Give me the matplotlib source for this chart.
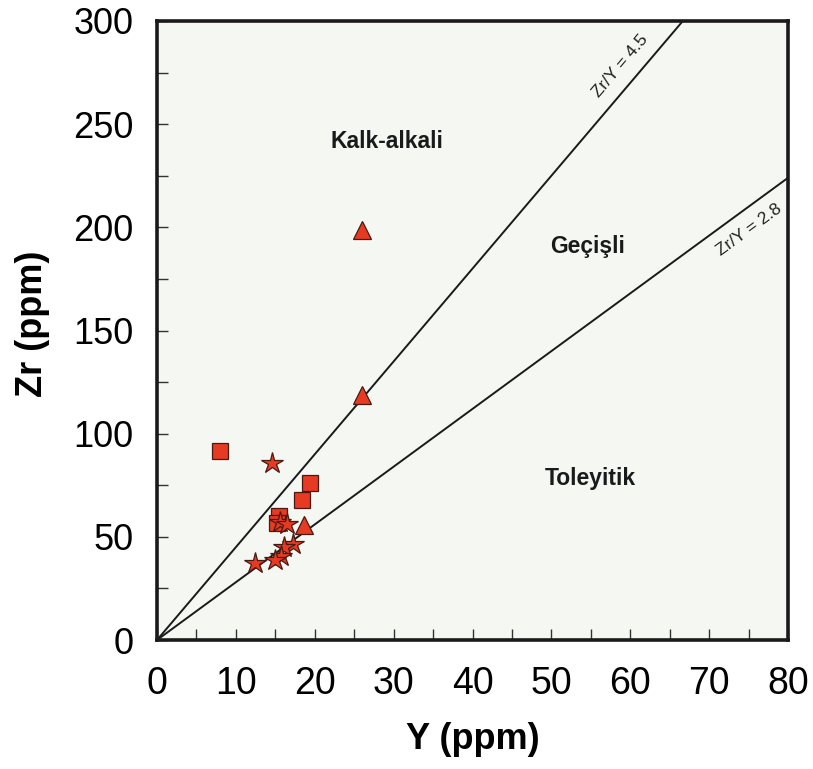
import matplotlib
matplotlib.use("Agg")
import matplotlib.pyplot as plt
import numpy as np
from matplotlib.ticker import MultipleLocator

plt.rcParams['font.family'] = ['Liberation Sans', 'DejaVu Sans']

# Data (Y ppm, Zr ppm)
square_y = [8.0, 19.4, 18.4, 15.5, 15.2]
square_zr = [91.5, 76.0, 68.0, 60.0, 56.5]
star_y = [14.6, 15.6, 16.5, 17.2, 16.1, 15.7, 15.0, 12.4]
star_zr = [86.0, 57.0, 56.0, 46.5, 45.0, 40.5, 39.0, 37.5]
tri_y = [26.0, 26.0, 18.6]
tri_zr = [198.5, 118.5, 55.5]

ratio_values = [4.5, 2.8]
ratio_labels = ['Zr/Y = 4.5', 'Zr/Y = 2.8']
region_labels = ['Kalk-alkali', 'Geçişli', 'Toleyitik']
region_pos = [(29.2, 238.5), (54.6, 187.6), (54.9, 75.1)]

xmax, ymax = 80, 300

fig = plt.figure(figsize=(8.13, 7.69), dpi=100)
ax = fig.add_axes([157/813, 1-640/769, (788-157)/813, (640-21)/769])
ax.set_facecolor('#f5f7f2')

# Discrimination lines
xs = np.array([0, xmax])
for r in ratio_values:
    ax.plot(xs, r*xs, color='#1a1a1a', lw=1.4, zorder=2)

ax.set_xlim(0, xmax)
ax.set_ylim(0, ymax)
fig.canvas.draw()

def angle_for(r):
    p1 = ax.transData.transform((0, 0))
    p2 = ax.transData.transform((10, 10*r))
    return np.degrees(np.arctan2(p2[1]-p1[1], p2[0]-p1[0]))

# label foot x on line, perpendicular offset (points), side (+1 above, -1 below)
lab_x = [60.5, 73.7]
lab_side = [1, -1]
for r, lab, lx, side in zip(ratio_values, ratio_labels, lab_x, lab_side):
    ang = angle_for(r)
    a = np.radians(ang)
    d = 13.5
    off = (-np.sin(a)*d*side, np.cos(a)*d*side)
    ax.annotate(lab, xy=(lx, r*lx), xytext=off, textcoords='offset points',
                rotation=ang, rotation_mode='anchor', ha='center', va='center',
                fontsize=12.5, color='#222222', zorder=3)

for lab, (px, py) in zip(region_labels, region_pos):
    ax.text(px, py, lab, ha='center', va='baseline', fontsize=16.5,
            fontweight='bold', color='#1a1a1a')

mk = dict(color='#e63a22', markeredgecolor='#4a1a12', markeredgewidth=0.9,
          linestyle='none', zorder=4)
ax.plot(square_y, square_zr, marker='s', markersize=11, **mk)
ax.plot(tri_y, tri_zr, marker='^', markersize=13, **mk)
ax.plot(star_y, star_zr, marker='*', markersize=16, **mk)

ax.xaxis.set_major_locator(MultipleLocator(10))
ax.xaxis.set_minor_locator(MultipleLocator(5))
ax.yaxis.set_major_locator(MultipleLocator(50))
ax.yaxis.set_minor_locator(MultipleLocator(25))
ax.tick_params(which='both', direction='in', length=8, width=1.0,
               color='#333333', top=False, right=False)
ax.tick_params(axis='x', which='major', labelsize=27, pad=19)
ax.tick_params(axis='y', which='major', labelsize=26, pad=17)
for s in ax.spines.values():
    s.set_linewidth(2.6)
    s.set_color('#1a1a1a')

ax.set_xlabel('Y (ppm)', fontsize=26, fontweight='bold', labelpad=14)
ax.set_ylabel('Zr (ppm)', fontsize=26, fontweight='bold', labelpad=14)
ax.yaxis.set_label_coords(-0.17, 0.51)

fig.savefig('out.png', dpi=100, facecolor='white')
